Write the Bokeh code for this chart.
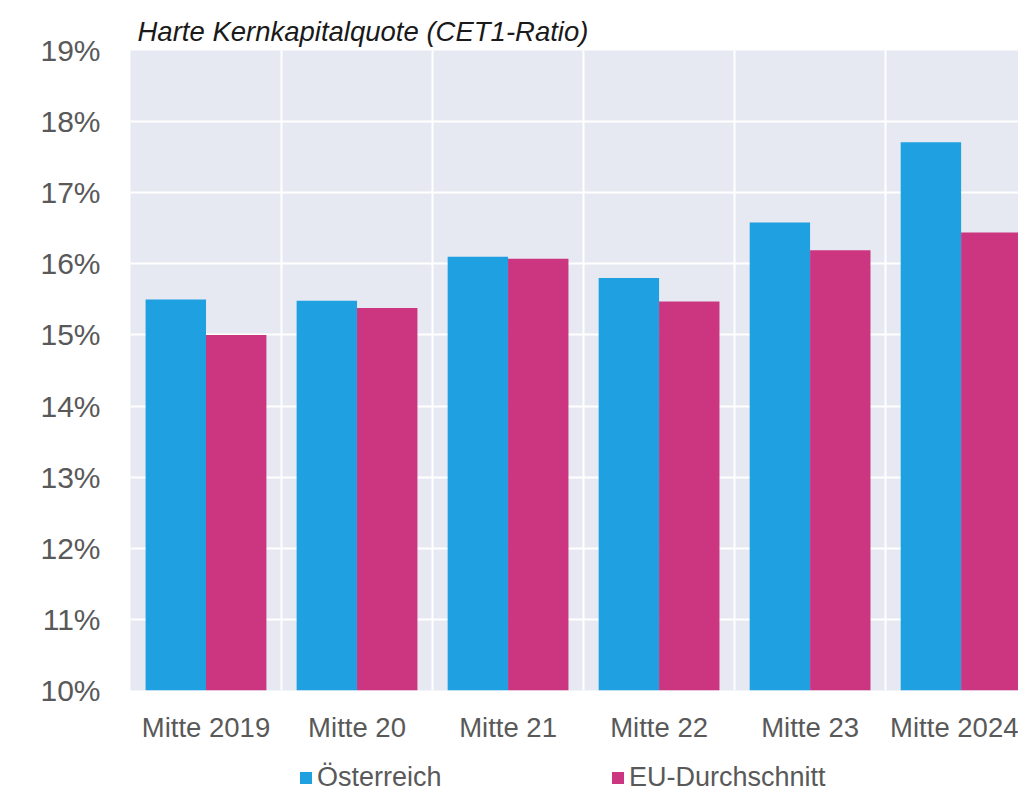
from bokeh.plotting import figure
from bokeh.layouts import column
from bokeh.models import ColumnDataSource, FixedTicker, Legend, LegendItem
from bokeh.transform import dodge
from bokeh.embed import file_html
from bokeh.resources import INLINE

categories = ["Mitte 2019", "Mitte 20", "Mitte 21", "Mitte 22", "Mitte 23", "Mitte 2024"]
oesterreich = [15.50, 15.48, 16.10, 15.80, 16.58, 17.71]
eu_durchschnitt = [15.00, 15.38, 16.07, 15.47, 16.19, 16.44]
y_ticks = [10, 11, 12, 13, 14, 15, 16, 17, 18, 19]
series_names = ["Österreich", "EU-Durchschnitt"]

BLUE = "#1fa0e1"
MAGENTA = "#cc3580"
FONT = "Liberation Sans"

centers = [i + 0.5 for i in range(len(categories))]
src = ColumnDataSource(dict(x=centers, at=oesterreich, eu=eu_durchschnitt))

p = figure(width=1018, height=745, output_backend="svg", toolbar_location=None,
           x_range=(0, 5.88), y_range=(10, 19),
           min_border_left=130, min_border_right=0, min_border_top=50,
           min_border_bottom=50)

p.background_fill_color = "#e6e9f1"
p.border_fill_color = "white"
p.outline_line_color = None

p.vbar(x=dodge("x", -0.2), top="at", bottom=10, width=0.4, source=src,
       fill_color=BLUE, line_color=None)
p.vbar(x=dodge("x", 0.2), top="eu", bottom=10, width=0.4, source=src,
       fill_color=MAGENTA, line_color=None)

# title
p.title.text = "Harte Kernkapitalquote (CET1-Ratio)"
p.title.text_font = FONT
p.title.text_font_style = "italic"
p.title.text_font_size = "27.5px"
p.title.text_color = "#1a1a1a"
p.title.align = "left"
p.title.offset = 7
p.title.standoff = 7

# y axis
p.yaxis.ticker = FixedTicker(ticks=y_ticks)
p.yaxis.major_label_overrides = {t: f"{t}%" for t in y_ticks}
p.yaxis.major_label_text_font = FONT
p.yaxis.major_label_text_font_size = "30px"
p.yaxis.major_label_text_color = "#595959"
p.yaxis.major_label_standoff = 24
p.yaxis.axis_line_color = None
p.yaxis.major_tick_line_color = None
p.yaxis.minor_tick_line_color = None

# x axis
p.xaxis.ticker = FixedTicker(ticks=centers)
p.xaxis.major_label_overrides = {c: lab for c, lab in zip(centers, categories)}
p.xaxis.major_label_text_font = FONT
p.xaxis.major_label_text_font_size = "27.5px"
p.xaxis.major_label_text_color = "#595959"
p.xaxis.major_label_standoff = 15
p.xaxis.axis_line_color = None
p.xaxis.major_tick_line_color = None
p.xaxis.minor_tick_line_color = None

# grids
p.ygrid.ticker = FixedTicker(ticks=y_ticks)
p.ygrid.grid_line_color = "white"
p.ygrid.grid_line_width = 2
p.xgrid.ticker = FixedTicker(ticks=list(range(len(categories) + 1)))
p.xgrid.grid_line_color = "white"
p.xgrid.grid_line_width = 2

# legend strip (frame aligned with main frame by the column layout)
lf = figure(width=1018, height=48, output_backend="svg", toolbar_location=None,
            x_range=(0, 1), y_range=(0, 1),
            min_border_left=0, min_border_right=0, min_border_top=0,
            min_border_bottom=0)
lf.axis.visible = False
lf.grid.visible = False
lf.outline_line_color = None
dummy = ColumnDataSource(dict(x=[float("nan")], top=[float("nan")]))
g1 = lf.vbar(x="x", top="top", width=0.1, source=dummy, fill_color=BLUE, line_color=None)
g2 = lf.vbar(x="x", top="top", width=0.1, source=dummy, fill_color=MAGENTA, line_color=None)

legend = Legend(items=[LegendItem(label=series_names[0], renderers=[g1]),
                       LegendItem(label=series_names[1], renderers=[g2])],
                orientation="horizontal", location=(168, 0),
                glyph_width=15, glyph_height=15, label_standoff=4,
                spacing=0, label_width=293, padding=0, margin=0,
                border_line_color=None, background_fill_alpha=0,
                label_text_font=FONT, label_text_font_size="27px",
                label_text_color="#595959")
lf.add_layout(legend, "center")

open("out.html", "w").write(file_html(column(p, lf, spacing=0), INLINE))
